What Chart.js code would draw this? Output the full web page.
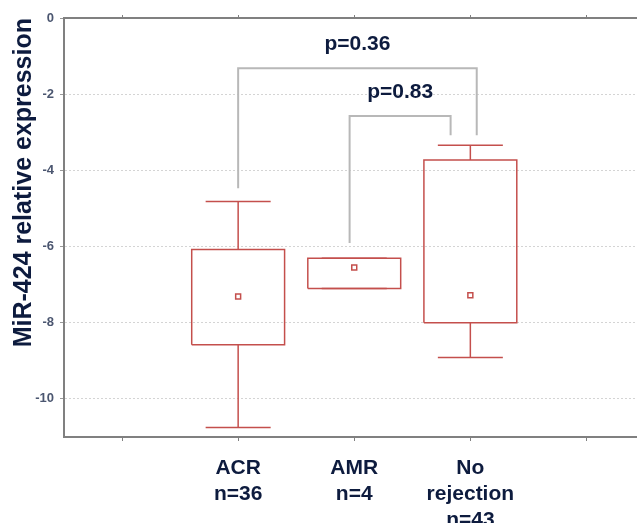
<!DOCTYPE html>
<html>
<head>
<meta charset="utf-8">
<script src="https://cdn.jsdelivr.net/npm/chart.js@4"></script>
<style>
  html, body { margin: 0; padding: 0; background: #fff; overflow: hidden; }
  #wrap { position: absolute; left: 0; top: 0; width: 650px; height: 523px; }
</style>
</head>
<body>
<div id="wrap"><canvas id="myChart"></canvas></div>
<script>
// groups
const categories = ['ACR', 'AMR', 'No rejection'];
const xTickLabels = [['ACR', 'n=36'], ['AMR', 'n=4'], ['No', 'rejection', 'n=43']];
// box plot values
const whiskerHigh = [-4.82, -6.31, -3.34];
const q3 = [-6.08, -6.31, -3.73];
const medians = [-7.31, -6.55, -7.28];
const q1 = [-8.58, -7.10, -8.00];
const whiskerLow = [-10.75, -7.10, -8.91];
// comparison brackets
const pLabels = ['p=0.36', 'p=0.83'];
const bracketFrom = [1, 1.96];
const bracketTo = [3.055, 2.83];
const bracketTop = [-1.32, -2.57];
const bracketFromEnd = [-4.47, -5.91];
const bracketToEnd = [-3.08, -3.08];

const red = '#c44f4c';
const navy = '#0d1b3e';
const font = "'Liberation Sans', Arial, sans-serif";
const boxHalf = 0.4;
const capHalf = 0.28;

const gap = (x) => ({x: x, y: null});

const boxPts = [];
const whiskerPts = [];
const medianPts = [];
categories.forEach((c, i) => {
    const x = i + 1;
    boxPts.push({x: x - boxHalf, y: q1[i]}, {x: x - boxHalf, y: q3[i]},
        {x: x + boxHalf, y: q3[i]}, {x: x + boxHalf, y: q1[i]}, {x: x - boxHalf, y: q1[i]}, gap(x));
    whiskerPts.push({x: x, y: q3[i]}, {x: x, y: whiskerHigh[i]}, gap(x),
        {x: x - capHalf, y: whiskerHigh[i]}, {x: x + capHalf, y: whiskerHigh[i]}, gap(x),
        {x: x, y: q1[i]}, {x: x, y: whiskerLow[i]}, gap(x),
        {x: x - capHalf, y: whiskerLow[i]}, {x: x + capHalf, y: whiskerLow[i]}, gap(x));
    medianPts.push({x: x, y: medians[i]});
});

const bracketPts = [];
pLabels.forEach((p, i) => {
    bracketPts.push({x: bracketFrom[i], y: bracketFromEnd[i]}, {x: bracketFrom[i], y: bracketTop[i]},
        {x: bracketTo[i], y: bracketTop[i]}, {x: bracketTo[i], y: bracketToEnd[i]}, gap(bracketTo[i]));
});

const pValuePlugin = {
    id: 'pValues',
    afterDatasetsDraw(chart) {
        const {ctx, scales: {x, y}} = chart;
        ctx.save();
        ctx.font = 'bold 21px ' + font;
        ctx.fillStyle = navy;
        ctx.textAlign = 'center';
        ctx.textBaseline = 'middle';
        pLabels.forEach((p, i) => {
            const px = x.getPixelForValue((bracketFrom[i] + bracketTo[i]) / 2);
            const py = y.getPixelForValue(bracketTop[i]) - 24;
            ctx.fillText(p, px, py);
        });
        ctx.restore();
    }
};

// tick marks at 0..4, the groups sit on 1..3
const xTicks = (s) => { s.ticks = [0, 1, 2, 3, 4].map(v => ({value: v})); };

const chart = new Chart(document.getElementById('myChart'), {
    type: 'scatter',
    data: {
        datasets: [
            {data: bracketPts, showLine: true, spanGaps: false, borderColor: '#b8b8b8', borderWidth: 2, pointRadius: 0},
            {data: whiskerPts, showLine: true, spanGaps: false, borderColor: red, borderWidth: 1.5, pointRadius: 0},
            {data: boxPts, showLine: true, spanGaps: false, borderColor: red, borderWidth: 1.5, pointRadius: 0},
            {data: medianPts, showLine: false, pointStyle: 'rect', pointRadius: 3.5, borderColor: red,
                backgroundColor: '#fff', borderWidth: 1.5}
        ]
    },
    options: {
        responsive: true,
        maintainAspectRatio: false,
        animation: false,
        layout: {padding: 0},
        plugins: {legend: {display: false}, tooltip: {enabled: false}},
        scales: {
            x: {
                type: 'linear',
                position: 'bottom',
                min: -0.5,
                max: 4.5,
                afterBuildTicks: xTicks,
                afterFit: (s) => { s.height = 86; },
                border: {color: '#808080', width: 2},
                grid: {drawOnChartArea: false, tickLength: 4, tickColor: '#808080'},
                ticks: {
                    maxRotation: 0,
                    autoSkip: false,
                    padding: 14,
                    color: navy,
                    font: {family: font, size: 21, weight: 'bold', lineHeight: 1.25},
                    callback: (v) => xTickLabels[v - 1] || ''
                }
            },
            x2: {
                type: 'linear',
                position: 'top',
                min: -0.5,
                max: 4.5,
                afterBuildTicks: xTicks,
                afterFit: (s) => { s.height = 18; },
                border: {color: '#808080', width: 2},
                grid: {drawOnChartArea: false, tickLength: 3, tickColor: '#808080'},
                ticks: {display: false}
            },
            y: {
                min: -11,
                max: 0,
                afterFit: (s) => { s.width = 64; },
                border: {color: '#808080', width: 2, dash: [2, 2]},
                grid: {color: '#d4d4d4', tickLength: 4, tickColor: '#999'},
                ticks: {
                    stepSize: 2,
                    includeBounds: false,
                    padding: 6,
                    color: '#4b5670',
                    font: {family: font, size: 13, weight: 'bold'}
                },
                title: {
                    display: true,
                    text: 'MiR-424 relative expression',
                    align: 'end',
                    color: navy,
                    padding: {top: 9, bottom: 0},
                    font: {family: font, size: 25, weight: 'bold'}
                }
            }
        }
    },
    plugins: [pValuePlugin]
});
</script>
</body>
</html>
